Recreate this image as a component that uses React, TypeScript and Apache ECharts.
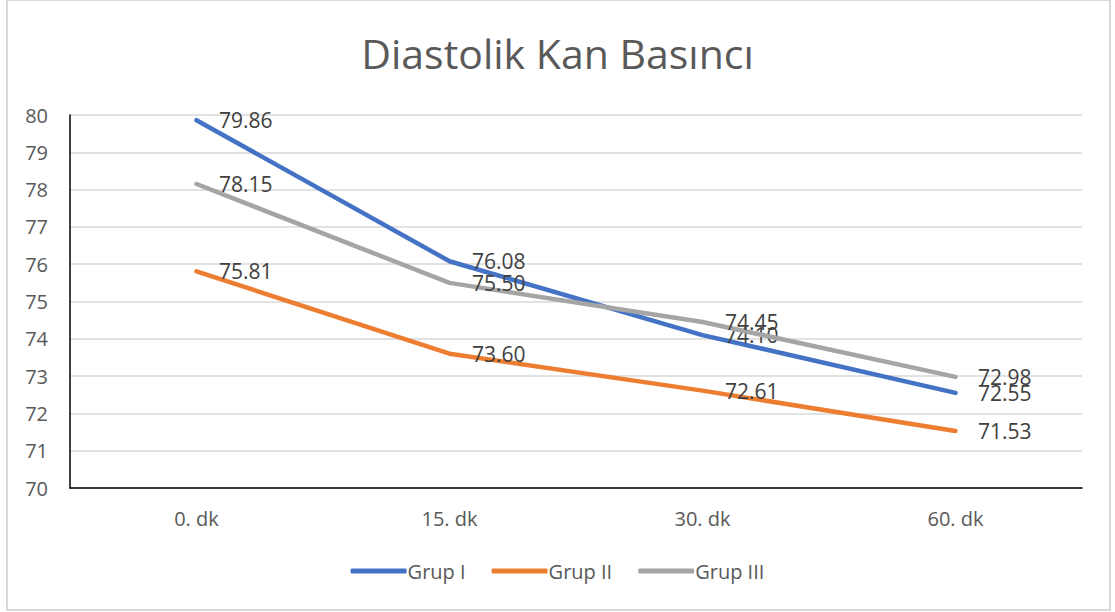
import React, { useEffect, useRef } from "react";
import * as echarts from "echarts";

const categories = ["0. dk", "15. dk", "30. dk", "60. dk"];
const grupI = [79.86, 76.08, 74.1, 72.55];
const grupII = [75.81, 73.6, 72.61, 71.53];
const grupIII = [78.15, 75.5, 74.45, 72.98];
const seriesNames = ["Grup I", "Grup II", "Grup III"];
const colors = ["#4472C4", "#ED7D31", "#A5A5A5"];

const FONT = "'Open Sans', 'Noto Sans', sans-serif";

export default function App() {
  const ref = useRef<HTMLDivElement>(null);
  useEffect(() => {
    if (!ref.current) return;
    const chart = echarts.init(ref.current, undefined, { renderer: "svg" });
    const data = [grupI, grupII, grupIII];
    chart.setOption({
      animation: false,
      backgroundColor: "#ffffff",
      title: {
        text: "Diastolik Kan Basıncı",
        left: "center",
        top: 27,
        textStyle: { fontFamily: FONT, fontSize: 41, fontWeight: "normal", color: "#595959" },
      },
      legend: {
        bottom: 26,
        left: "center",
        icon: "roundRect",
        itemWidth: 56,
        itemHeight: 5,
        itemGap: 26,
        textStyle: { fontFamily: FONT, fontSize: 20, color: "#595959", padding: [0, 0, 0, -4] },
        data: seriesNames,
      },
      grid: { left: 70, right: 33, top: 115, bottom: 124, containLabel: false },
      xAxis: {
        type: "category",
        data: categories,
        boundaryGap: true,
        axisLine: { lineStyle: { color: "#000000", width: 1.5 } },
        axisTick: { show: false },
        axisLabel: { fontFamily: FONT, fontSize: 20, color: "#595959", margin: 20 },
      },
      yAxis: {
        type: "value",
        min: 70,
        max: 80,
        interval: 1,
        axisLine: { show: true, lineStyle: { color: "#000000", width: 1.5 } },
        axisTick: { show: false },
        splitLine: { lineStyle: { color: "#d9d9d9", width: 1.5 } },
        axisLabel: { fontFamily: FONT, fontSize: 20, color: "#595959", margin: 22 },
      },
      series: data.map((d, i) => ({
        name: seriesNames[i],
        type: "line",
        data: d,
        symbol: "circle",
        symbolSize: 1,
        showSymbol: true,
        itemStyle: { color: colors[i] },
        color: colors[i],
        lineStyle: { width: 4.5, color: colors[i], cap: "round" },
        label: {
          show: true,
          position: "right",
          distance: 22,
          formatter: (p: any) => Number(p.value).toFixed(2),
          fontFamily: FONT,
          fontSize: 21,
          color: "#404040",
        },
        labelLayout: { hideOverlap: false },
        z: 2 + i,
      })),
      graphic: [
        {
          type: "rect",
          shape: { x: 7, y: 0, width: 1103, height: 610 },
          style: { fill: "none", stroke: "#d9d9d9", lineWidth: 2 },
          silent: true,
        },
      ],
    });
    return () => chart.dispose();
  }, []);
  return <div ref={ref} style={{ position: "absolute", left: 0, top: 0, width: 1115, height: 612 }} />;
}
